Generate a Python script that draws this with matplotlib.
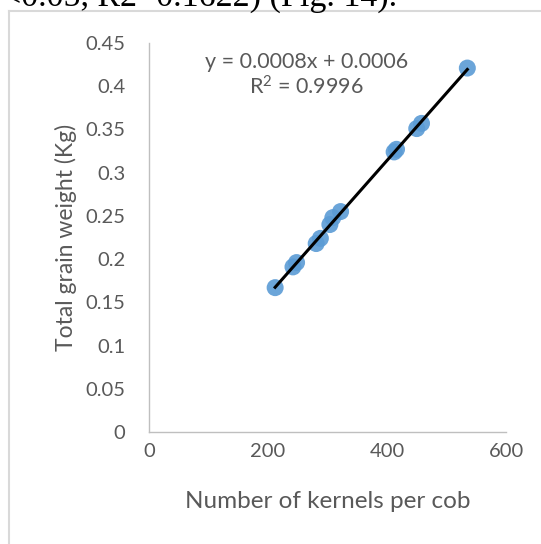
import matplotlib
matplotlib.use("Agg")
import matplotlib.pyplot as plt
import numpy as np
from matplotlib.lines import Line2D

# kernels per cob vs total grain weight
kernels = [212, 242, 248, 281, 288, 304, 309, 322, 412, 416, 450, 458, 535]
weight = [0.167, 0.191, 0.196, 0.218, 0.224, 0.240, 0.248, 0.255,
          0.324, 0.327, 0.351, 0.357, 0.421]

x_ticks = [0, 200, 400, 600]
y_ticks = [0, 0.05, 0.1, 0.15, 0.2, 0.25, 0.3, 0.35, 0.4, 0.45]
y_labels = ["0", "0.05", "0.1", "0.15", "0.2", "0.25", "0.3", "0.35", "0.4", "0.45"]

equation = "y = 0.0008x + 0.0006"
r2_text = "R$^2$ = 0.9996"
caption = "<0.05, R2=0.1622) (Fig. 14)."

txt = "#595959"
plt.rcParams["font.family"] = ["Lato", "DejaVu Sans"]
plt.rcParams["mathtext.default"] = "regular"

fig = plt.figure(figsize=(5.41, 5.44), dpi=100)
ax = fig.add_axes([149 / 541, 1 - 432 / 544, 357 / 541, 389 / 544])

ax.scatter(kernels, weight, s=150, color="#5b9bd5", alpha=0.9,
           edgecolors="none", zorder=2)

# linear trendline
k = np.array(kernels, dtype=float)
slope, icpt = np.polyfit(k, weight, 1)
xs = np.array([k.min(), k.max()])
ax.plot(xs, slope * xs + icpt, color="black", lw=2.2, zorder=3)

ax.set_xlim(0, 600)
ax.set_ylim(0, 0.45)
ax.set_xticks(x_ticks)
ax.set_yticks(y_ticks)
ax.set_yticklabels(y_labels)
ax.tick_params(length=0, labelsize=14.5, colors=txt)
ax.tick_params(axis="y", pad=17)
ax.tick_params(axis="x", pad=8)
for s in ["top", "right"]:
    ax.spines[s].set_visible(False)
for s in ["left", "bottom"]:
    ax.spines[s].set_color("#bfbfbf")
    ax.spines[s].set_linewidth(1)

ax.set_xlabel("Number of kernels per cob", fontsize=17.5, color=txt, labelpad=22)
ax.set_ylabel("Total grain weight (Kg)", fontsize=16.5, color=txt, labelpad=6)

ax.text(264, 0.428, equation, fontsize=15.5, color=txt, ha="center", va="center")
ax.text(264, 0.399, r2_text, fontsize=15.5, color=txt, ha="center", va="center")

# chart frame (continues past the crop) and document caption cut at top
fig.add_artist(Line2D([9 / 541, 9 / 541], [0, 1 - 11 / 544],
                      transform=fig.transFigure, color="#d9d9d9", lw=1.5))
fig.add_artist(Line2D([9 / 541, 1], [1 - 11 / 544, 1 - 11 / 544],
                      transform=fig.transFigure, color="#d9d9d9", lw=1.5))
fig.text(2 / 541, 1 - 6 / 544, caption, fontsize=24.5, ha="left", va="baseline",
         family="Liberation Serif", color="black")

fig.savefig("out.png", dpi=100)
